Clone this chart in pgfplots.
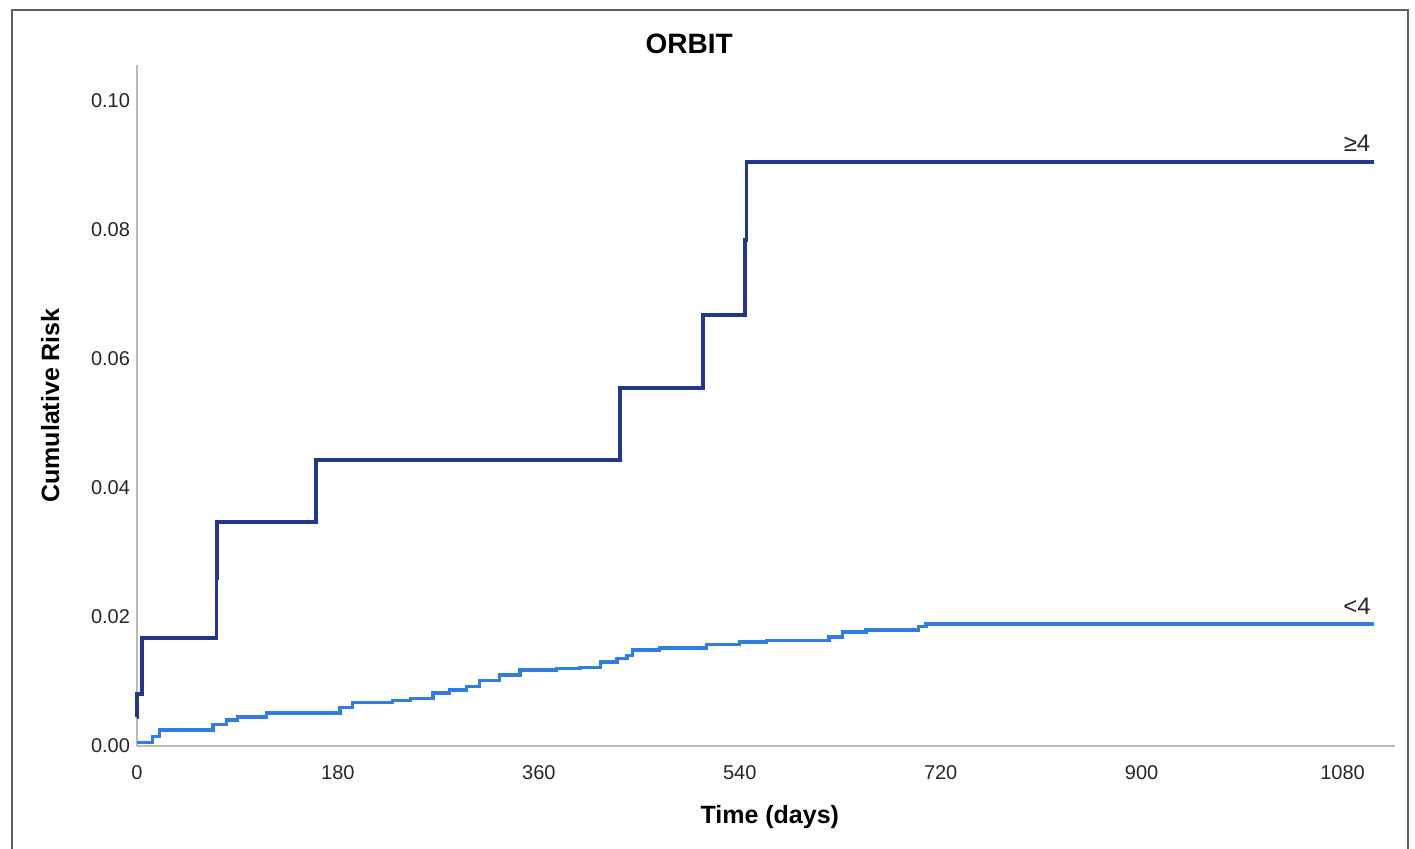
\documentclass[border=0pt]{standalone}
\usepackage{fontspec}
\setmainfont{Liberation Sans}
\usepackage{pgfplots}
\pgfplotsset{compat=1.18}
\definecolor{hiRisk}{RGB}{33,56,138}
\definecolor{loRisk}{RGB}{48,126,226}
\definecolor{frameGray}{RGB}{95,95,95}

\begin{document}
\begin{tikzpicture}
% page = 1415x849 px at 0.5pt per px, axis corner at px (137,746)
\path[use as bounding box] (-68.5pt,-51.5pt) rectangle (639pt,373pt);
\draw[frameGray, line width=1.2pt] (-62.5pt,-52pt) rectangle (635.5pt,368pt);
\begin{axis}[
    scale only axis,
    width=629pt, height=340.5pt,
    xmin=0, xmax=1127,
    ymin=0, ymax=0.1056,
    axis lines=left,
    axis line style={draw=gray!55, line width=1pt, -},
    major tick length=0pt,
    xtick={0,180,360,540,720,900,1080},
    ytick={0,0.02,0.04,0.06,0.08,0.10},
    /pgf/number format/assume math mode=true,
    /pgf/number format/1000 sep={},
    yticklabel style={/pgf/number format/.cd, fixed, fixed zerofill, precision=2},
    tick label style={font=\fontsize{10}{12}\selectfont, text=black!85},
    xticklabel style={yshift=-6pt},
    title={\textbf{ORBIT}},
    title style={at={(axis description cs:0.439,1.013)}, anchor=center, font=\fontsize{14}{16}\selectfont},
    xlabel={\textbf{Time (days)}},
    xlabel style={at={(axis description cs:0.503,-0.104)}, anchor=center, font=\fontsize{12.5}{14}\selectfont},
    ylabel={\textbf{Cumulative Risk}},
    ylabel style={at={(axis description cs:-0.069,0.5)}, anchor=center, font=\fontsize{12.5}{14}\selectfont},
    clip=false,
]
% score >= 4
\addplot[const plot, hiRisk, line width=1.9pt] coordinates {
  (0,0.0045) (0.3,0.0080) (4.5,0.0168) (71.3,0.0260) (71.8,0.0347)
  (160.3,0.0443) (432.5,0.0555) (507,0.0668) (544.5,0.0785)
  (546,0.0905) (1108,0.0905)
};
% score < 4
\addplot[const plot, loRisk, line width=1.7pt] coordinates {
  (0,0.0005) (14,0.0015) (20,0.0025) (68,0.0033) (80,0.0040) (90,0.0045)
  (116,0.0051) (182,0.0060) (193,0.0067) (229,0.0071) (245,0.0074)
  (265,0.0082) (280,0.0087) (295,0.0092) (307,0.0102) (325,0.0110)
  (343,0.0118) (376,0.0120) (397,0.0122) (415,0.0130) (430,0.0136)
  (439,0.0140) (444,0.0149) (468,0.0152) (510,0.0157) (540,0.0161)
  (564,0.0164) (620,0.0169) (632,0.0177) (653,0.0180) (700,0.0185)
  (707,0.0189) (1108,0.0189)
};
\node[font=\fontsize{12}{14}\selectfont, text=black!85] at (axis cs:1093,0.0935) {≥4};
\node[font=\fontsize{12}{14}\selectfont, text=black!85] at (axis cs:1093,0.0217) {<4};
\end{axis}
\end{tikzpicture}
\end{document}
